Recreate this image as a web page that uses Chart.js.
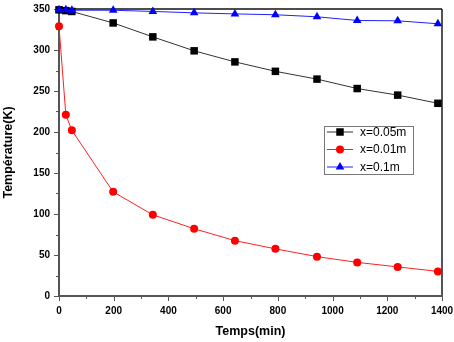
<!DOCTYPE html>
<html>
<head>
<meta charset="utf-8">
<script src="https://cdn.jsdelivr.net/npm/chart.js@4"></script>
<style>
  html, body { margin: 0; padding: 0; background: #fff; }
  #wrap { width: 454px; height: 342px; }
</style>
</head>
<body>
<div id="wrap"><canvas id="chart" width="454" height="342"></canvas></div>
<script>
// values
const temps = [0, 25, 47, 198, 343, 494, 643, 791, 943, 1090, 1238, 1385]
const x005 = [349, 348, 347, 333, 316, 299, 285.5, 274, 264.5, 253, 245, 235]
const x001 = [329, 221, 202, 127, 99, 82, 67.5, 57.5, 48, 41, 35.5, 30]
const x01 = [349, 349, 348.5, 348.5, 347, 345.3, 344, 343, 340.5, 336, 335.6, 332]

const xTicks = [0, 200, 400, 600, 800, 1000, 1200, 1400]
const yTicks = [0, 50, 100, 150, 200, 250, 300, 350]

const FONT = "'Liberation Sans', Arial, sans-serif"

function points(ys) {
    return temps.map((t, i) => ({x: t, y: ys[i]}))
}

// axes frame + ticks (major outward, minor shorter)
const framePlugin = {
    id: 'frame',
    beforeDatasetsDraw(chart) {
        const {ctx, chartArea: a, scales} = chart
        const xs = scales.x, ys = scales.y
        ctx.save()
        ctx.strokeStyle = '#555'
        ctx.lineWidth = 1
        for (let v = 0; v <= 1400; v += 100) {
            const px = Math.round(xs.getPixelForValue(v)) + 0.5
            const len = v % 200 === 0 ? 5 : 3
            ctx.beginPath(); ctx.moveTo(px, a.bottom); ctx.lineTo(px, a.bottom + len); ctx.stroke()
        }
        for (let v = 0; v <= 350; v += 25) {
            const py = Math.round(ys.getPixelForValue(v)) + 0.5
            const len = v % 50 === 0 ? 5 : 3
            ctx.beginPath(); ctx.moveTo(a.left, py); ctx.lineTo(a.left - len, py); ctx.stroke()
        }
        ctx.lineWidth = 2
        ctx.strokeStyle = '#555'
        ctx.beginPath()
        ctx.moveTo(a.left, a.top); ctx.lineTo(a.left, a.bottom); ctx.lineTo(a.right, a.bottom); ctx.lineTo(a.right, a.top)
        ctx.stroke()
        ctx.lineWidth = 1.5
        ctx.strokeStyle = '#111'
        ctx.beginPath(); ctx.moveTo(a.left, a.top); ctx.lineTo(a.right, a.top); ctx.stroke()
        ctx.restore()
    }
}

// legend box inside the plot
const boxLegend = {
    id: 'boxLegend',
    afterDraw(chart) {
        const ctx = chart.ctx
        const x0 = 324, y0 = 126, w = 89, h = 48
        ctx.save()
        ctx.strokeStyle = '#777'
        ctx.lineWidth = 1
        ctx.strokeRect(x0 + 0.5, y0 + 0.5, w, h)
        const rows = [132, 149.5, 167]
        chart.data.datasets.forEach((ds, i) => {
            const y = rows[i]
            ctx.strokeStyle = ds.borderColor
            ctx.lineWidth = 1
            ctx.beginPath(); ctx.moveTo(327, y); ctx.lineTo(353, y); ctx.stroke()
            ctx.fillStyle = ds.pointBackgroundColor
            Chart.helpers.drawPoint(ctx, {pointStyle: ds.pointStyle, radius: ds.pointRadius, borderWidth: 0}, 340, y)
            ctx.fillStyle = '#000'
            ctx.font = '12px ' + FONT
            ctx.textBaseline = 'middle'
            ctx.fillText(ds.label, 360, y + 0.5)
        })
        ctx.restore()
    }
}

const data = {
    datasets: [{
        label: 'x=0.05m',
        data: points(x005),
        borderColor: '#333',
        pointBackgroundColor: '#000',
        pointBorderColor: '#000',
        pointStyle: 'rect',
        pointRadius: 5.3,
        order: 2
    }, {
        label: 'x=0.01m',
        data: points(x001),
        borderColor: '#ff2020',
        pointBackgroundColor: '#ff0000',
        pointBorderColor: '#ff0000',
        pointStyle: 'circle',
        pointRadius: 4,
        order: 1
    }, {
        label: 'x=0.1m',
        data: points(x01),
        borderColor: '#2020ff',
        pointBackgroundColor: '#0000ff',
        pointBorderColor: '#0000ff',
        pointStyle: 'triangle',
        pointRadius: 5,
        order: 0
    }]
}

const config = {
    type: 'line',
    data: data,
    options: {
        responsive: false,
        animation: false,
        datasets: {line: {borderWidth: 1, pointBorderWidth: 0, tension: 0, clip: false}},
        layout: {padding: {top: 9, right: 12, left: 0, bottom: 0}},
        plugins: {legend: {display: false}, tooltip: {enabled: false}},
        scales: {
            x: {
                type: 'linear', min: 0, max: 1400,
                afterBuildTicks: s => { s.ticks = xTicks.map(v => ({value: v})) },
                afterFit: s => { s.height = 46; s.paddingRight = 0; s.paddingLeft = 0 },
                grid: {display: false, drawTicks: false},
                border: {display: false},
                ticks: {padding: 9, color: '#000', font: {family: FONT, size: 10, weight: 'bold'}, maxRotation: 0,
                        callback: v => String(v)},
                title: {display: true, text: 'Temps(min)', color: '#000', padding: {top: 0, bottom: 3},
                        font: {family: FONT, size: 12.5, weight: 'bold'}}
            },
            y: {
                min: 0, max: 350,
                afterBuildTicks: s => { s.ticks = yTicks.map(v => ({value: v})) },
                afterFit: s => { s.width = 59; s.paddingTop = 0; s.paddingBottom = 0 },
                grid: {display: false, drawTicks: false},
                border: {display: false},
                ticks: {padding: 9, color: '#000', font: {family: FONT, size: 10, weight: 'bold'},
                        callback: v => String(v)},
                title: {display: true, text: 'Température(K)', color: '#000', padding: {top: 1, bottom: 0},
                        font: {family: FONT, size: 12.5, weight: 'bold'}}
            }
        }
    },
    plugins: [framePlugin, boxLegend]
}

let ctx = document.getElementById('chart').getContext('2d')
new Chart(ctx, config)
</script>
</body>
</html>
